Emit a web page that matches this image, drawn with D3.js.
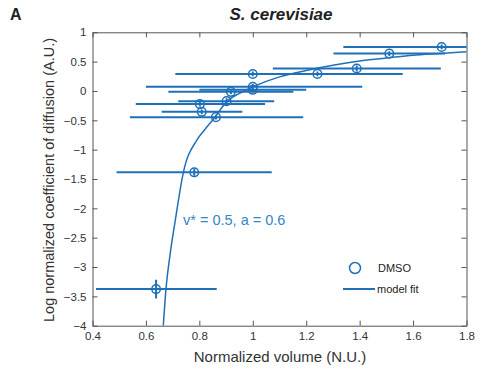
<!DOCTYPE html>
<head>
    <meta charset="utf-8">
    <script src="https://d3js.org/d3.v7.min.js"></script>
    <style>
        body { margin: 0; background: #fff; }
        svg { font-family: Arial, "Liberation Sans", sans-serif; }
        .tick text { fill: #333; font-size: 11.5px; }
        .domain, .tick line { stroke: #555; }
    </style>
</head>
<body>
<svg id="svg" width="479" height="375"></svg>
<script>
// measured points: volume, log D, volume error bar ends, log D error
var volume = [1.707, 1.511, 1.389, 1.242, 1.0, 1.0, 1.0, 0.918, 0.902, 0.802, 0.809, 0.862, 0.781, 0.638];
var logD = [0.75, 0.637, 0.383, 0.291, 0.29, 0.07, 0.02, -0.015, -0.173, -0.224, -0.355, -0.446, -1.386, -3.376];
var volLow = [1.339, 1.302, 1.075, 0.93, 0.71, 0.60, 0.80, 0.684, 0.721, 0.562, 0.659, 0.54, 0.49, 0.413];
var volHigh = [2.07, 1.72, 1.704, 1.561, 1.29, 1.41, 1.20, 1.152, 1.08, 1.046, 0.961, 1.189, 1.071, 0.865];
var logErr = [0.04, 0.04, 0.05, 0.04, 0.04, 0.05, 0.04, 0.04, 0.05, 0.04, 0.04, 0.04, 0.06, 0.16];

// model fit curve
var fitVolume = [0.665, 0.675, 0.69, 0.71, 0.74, 0.79, 0.82, 0.86, 0.90, 0.95, 1.0, 1.1, 1.2, 1.3, 1.4, 1.5, 1.6, 1.7, 1.8];
var fitLogD = [-4.0, -3.38, -2.8, -2.2, -1.39, -0.84, -0.66, -0.44, -0.19, -0.04, 0.07, 0.24, 0.35, 0.44, 0.51, 0.56, 0.61, 0.64, 0.67];

var xTicks = [0.4, 0.6, 0.8, 1, 1.2, 1.4, 1.6, 1.8];
var yTicks = [1, 0.5, 0, -0.5, -1, -1.5, -2, -2.5, -3, -3.5, -4];

var blue = "#1f70b8";
var mLeft = 92.5, mRight = 466.5, mTop = 32.3, mBottom = 325.7;

var svg = d3.select("#svg");
var x = d3.scaleLinear().domain([0.4, 1.8]).range([mLeft, mRight]);
var y = d3.scaleLinear().domain([-4, 1]).range([mBottom, mTop]);

svg.append("clipPath").attr("id", "clip").append("rect")
    .attr("x", mLeft).attr("y", mTop).attr("width", mRight - mLeft).attr("height", mBottom - mTop);

// axes with inward ticks, box style
svg.append("g").attr("transform", "translate(0," + mBottom + ")")
    .call(d3.axisBottom(x).tickValues(xTicks).tickSizeInner(-5).tickSizeOuter(0).tickPadding(6).tickFormat(d3.format("")));
svg.append("g").attr("transform", "translate(0," + mTop + ")")
    .call(d3.axisTop(x).tickValues(xTicks).tickSizeInner(-5).tickSizeOuter(0).tickFormat(""));
svg.append("g").attr("transform", "translate(" + mLeft + ",0)")
    .call(d3.axisLeft(y).tickValues(yTicks).tickSizeInner(-5).tickSizeOuter(0).tickPadding(6).tickFormat(d3.format("")));
svg.append("g").attr("transform", "translate(" + mRight + ",0)")
    .call(d3.axisRight(y).tickValues(yTicks).tickSizeInner(-5).tickSizeOuter(0).tickFormat(""));

var plot = svg.append("g").attr("clip-path", "url(#clip)");

// horizontal error bars
plot.selectAll(".hbar").data(volume).enter().append("line")
    .attr("x1", function (d, i) { return x(volLow[i]); })
    .attr("x2", function (d, i) { return x(volHigh[i]); })
    .attr("y1", function (d, i) { return y(logD[i]); })
    .attr("y2", function (d, i) { return y(logD[i]); })
    .attr("stroke", blue).attr("stroke-width", 2);

// vertical error bars
plot.selectAll(".vbar").data(volume).enter().append("line")
    .attr("x1", function (d) { return x(d); })
    .attr("x2", function (d) { return x(d); })
    .attr("y1", function (d, i) { return y(logD[i] - logErr[i]); })
    .attr("y2", function (d, i) { return y(logD[i] + logErr[i]); })
    .attr("stroke", blue).attr("stroke-width", 2);

plot.selectAll("circle").data(volume).enter().append("circle")
    .attr("cx", function (d) { return x(d); })
    .attr("cy", function (d, i) { return y(logD[i]); })
    .attr("r", 4.3)
    .attr("fill", "none").attr("stroke", blue).attr("stroke-width", 1.5);

var line = d3.line()
    .x(function (d, i) { return x(fitVolume[i]); })
    .y(function (d, i) { return y(fitLogD[i]); })
    .curve(d3.curveMonotoneX);
plot.append("path").datum(fitVolume).attr("d", line)
    .attr("fill", "none").attr("stroke", blue).attr("stroke-width", 1.5);

svg.append("text").attr("x", 183).attr("y", 225).attr("font-size", 14.5)
    .attr("fill", "#3586c8").text("v* = 0.5, a = 0.6");

// legend
svg.append("circle").attr("cx", 355).attr("cy", 268).attr("r", 5.5)
    .attr("fill", "none").attr("stroke", blue).attr("stroke-width", 1.5);
svg.append("text").attr("x", 378).attr("y", 272).attr("font-size", 11).attr("fill", "#222").text("DMSO");
svg.append("line").attr("x1", 343).attr("x2", 375).attr("y1", 289).attr("y2", 289)
    .attr("stroke", blue).attr("stroke-width", 2);
svg.append("text").attr("x", 377).attr("y", 293).attr("font-size", 11).attr("fill", "#222").text("model fit");

// titles and labels
svg.append("text").attr("x", 281).attr("y", 20).attr("text-anchor", "middle")
    .attr("font-size", 17).attr("font-weight", "bold").attr("font-style", "italic").attr("fill", "#222")
    .text("S. cerevisiae");
svg.append("text").attr("x", 10).attr("y", 20).attr("font-size", 16).attr("font-weight", "bold")
    .attr("fill", "#222").text("A");
svg.append("text").attr("x", 280).attr("y", 362).attr("text-anchor", "middle")
    .attr("font-size", 15).attr("fill", "#333").text("Normalized volume (N.U.)");
svg.append("text").attr("transform", "translate(54,180) rotate(-90)").attr("text-anchor", "middle")
    .attr("font-size", 14.5).attr("fill", "#333").text("Log normalized coefficient of diffusion (A.U.)");
</script>
</body>
